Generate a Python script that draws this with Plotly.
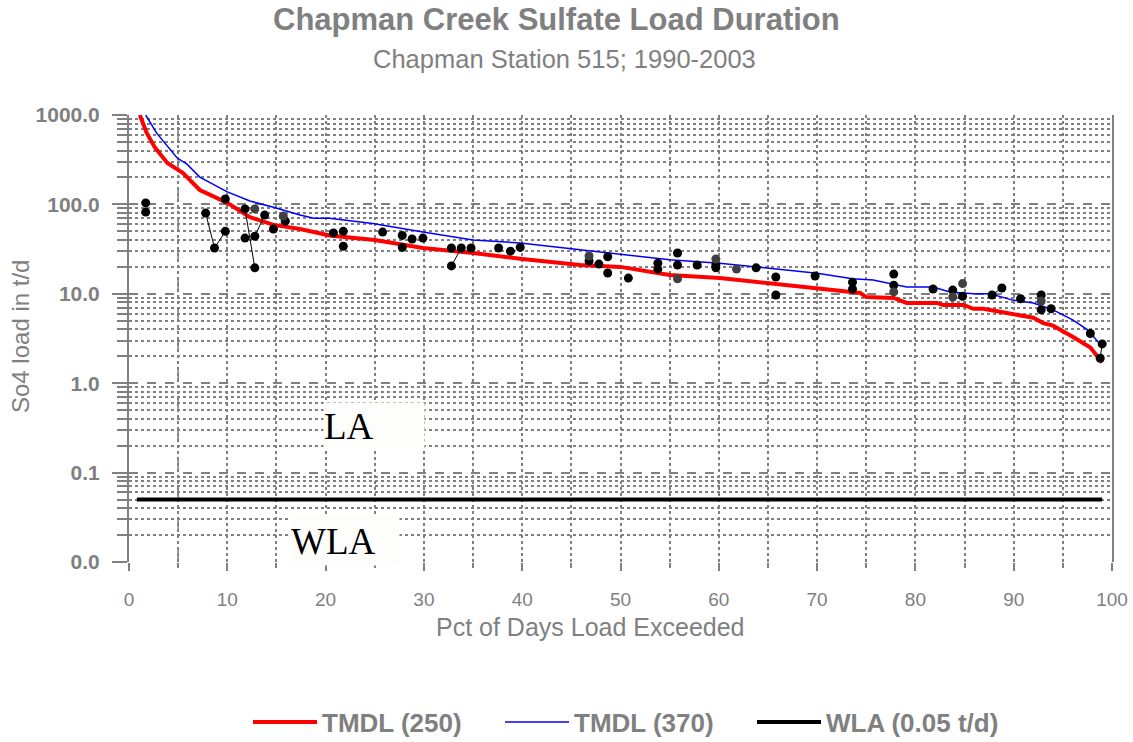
import plotly.graph_objects as go

# ---- data ----
red_pct = [1.1, 1.8, 2.6, 3.9, 5.5, 7.2, 10, 12.3, 14.7, 17.4, 20.4, 25, 29.9, 35, 40, 45.9, 50, 55,
           60.1, 64.9, 70, 74.4, 75.0, 77.8, 79.1, 82.2, 82.8, 84.9, 85.9, 86.9, 89.3, 92, 93, 94, 96, 97.8, 99]
red_load = [1000, 630, 440, 290, 224, 145, 104, 72, 59, 53, 45, 40, 32.5, 28.6, 24.5, 21, 20, 16.2,
            15, 13.2, 11.6, 10.2, 9.2, 9, 7.9, 7.9, 7.5, 7.5, 6.8, 6.8, 6.1, 5.4, 4.7, 4.4, 3.3, 2.5, 1.7]

blue_pct = [1.7, 2.8, 4.9, 5.9, 7.2, 10, 12.3, 14.7, 17.4, 18.8, 20.4, 24.8, 29.9, 35, 39.8, 45.9, 48.2,
            55, 60.1, 64.9, 70, 73.6, 75.7, 79.1, 81.8, 83.5, 85.9, 87.6, 89.9, 92, 94, 96, 97.6, 98.8]
blue_load = [1000, 630, 330, 282, 202, 138, 109, 93, 76, 70, 70, 61, 49, 40, 37, 31, 29,
             24, 22, 19.4, 17, 14.7, 14.3, 11.9, 11.9, 10.5, 10, 10, 8.5, 7.9, 6.6, 5.1, 3.9, 2.7]

wla_pct = [0.8, 99]
wla_load = [0.05, 0.05]

obs_pct = [1.7, 1.7, 9.8, 11.8, 14.7, 15.9, 20.8, 21.8, 21.8, 25.8, 27.8, 27.8, 28.8, 29.9, 32.8, 34.8,
           37.6, 38.8, 39.8, 46.8, 47.8, 48.7, 48.7, 50.8, 53.8, 53.8, 55.8, 55.8, 57.8, 59.7, 59.7,
           63.8, 65.8, 65.8, 69.8, 73.6, 73.6, 77.8, 77.8, 81.8, 83.8, 84.8, 90.7, 92.8, 92.8, 93.8, 97.8]
obs_load = [104, 82, 115, 42, 53, 65, 48, 50, 34, 49, 45, 33, 41, 42, 32.5, 32.5,
            32.5, 30, 33, 23.3, 21.5, 26, 17.1, 15, 22, 18.9, 28.6, 21, 21, 21, 19.5,
            19.5, 15.4, 9.7, 15.8, 13.5, 11.3, 16.6, 12.5, 11.3, 11, 9.4, 8.8, 9.7, 6.6, 6.8, 3.6]

grey_pct = [12.8, 15.7, 46.8, 55.8, 59.7, 61.8, 77.8, 83.8, 84.8, 92.8]
grey_load = [89, 74, 26.5, 14.7, 24.5, 18.9, 10.5, 9.2, 13, 8.3]

link_pct = [7.8, 8.7, 9.8, None, 11.8, 12.8, None, 12.8, 13.8, None, 32.8, 33.8, None, 87.8, 88.8, None, 99, 98.8]
link_load = [80, 32.5, 50, None, 89, 19.5, None, 44, 76, None, 20.5, 32.5, None, 9.7, 11.6, None, 2.75, 1.9]

dashed_pct = [5]

GREY = "#808080"
FONT = "Liberation Sans"

fig = go.Figure()

fig.add_trace(go.Scatter(x=red_pct, y=red_load, mode="lines", name="TMDL (250)",
                         line=dict(color="#ff0000", width=4)))
fig.add_trace(go.Scatter(x=blue_pct, y=blue_load, mode="lines", name="TMDL (370)",
                         line=dict(color="#0000ff", width=1.5)))
fig.add_trace(go.Scatter(x=wla_pct, y=wla_load, mode="lines", name="WLA (0.05 t/d)",
                         line=dict(color="#000000", width=4)))
fig.add_trace(go.Scatter(x=link_pct, y=link_load, mode="lines+markers", showlegend=False,
                         line=dict(color="#000000", width=1),
                         marker=dict(color="#000000", size=9), connectgaps=False))
fig.add_trace(go.Scatter(x=obs_pct, y=obs_load, mode="markers", showlegend=False,
                         marker=dict(color="#000000", size=9)))
fig.add_trace(go.Scatter(x=grey_pct, y=grey_load, mode="markers", showlegend=False,
                         marker=dict(color="#404040", size=9)))

for xv in dashed_pct:
    fig.add_vline(x=xv, line=dict(color=GREY, width=1.5, dash="longdash"), layer="below")

fig.update_xaxes(range=[0, 100], dtick=10, tick0=0, showgrid=True, gridcolor=GREY, griddash="dot",
                 gridwidth=1.5, ticks="outside", ticklen=8, tickcolor=GREY, tickwidth=1.5,
                 minor=dict(dtick=5, showgrid=True, gridcolor=GREY, griddash="dot", gridwidth=1.5,
                            ticks="outside", ticklen=5, tickcolor=GREY),
                 tickfont=dict(family=FONT, size=19, color=GREY), zeroline=False,
                 ticklabelstandoff=12, showline=False, automargin=False)
fig.update_yaxes(type="log", range=[-2, 3], dtick=1, tickformat=".1f", showgrid=True,
                 gridcolor=GREY, griddash="dash", gridwidth=1.5, ticks="outside", ticklen=15,
                 tickcolor=GREY, tickwidth=1.5,
                 minor=dict(dtick="D1", showgrid=True, gridcolor=GREY, griddash="dot", gridwidth=1.5,
                            ticks="outside", ticklen=10, tickcolor=GREY),
                 tickfont=dict(family=FONT, size=21, color=GREY, weight="bold"),
                 showline=True, mirror=True, linecolor=GREY, linewidth=2, zeroline=False,
                 ticklabelstandoff=8, automargin=False)

annos = [
    dict(text="<b>Chapman Creek Sulfate Load Duration</b>", xref="paper", yref="paper",
         x=(556 - 129) / 983, y=(562 - 20) / 447, showarrow=False, xanchor="center", yanchor="middle",
         font=dict(family=FONT, size=31, color=GREY)),
    dict(text="Chapman Station 515; 1990-2003", xref="paper", yref="paper",
         x=(564 - 129) / 983, y=(562 - 59) / 447, showarrow=False, xanchor="center", yanchor="middle",
         font=dict(family=FONT, size=25.5, color=GREY)),
    dict(text="So4 load in t/d", xref="paper", yref="paper", textangle=-90,
         x=(20 - 129) / 983, y=(562 - 337) / 447, showarrow=False, xanchor="center", yanchor="middle",
         font=dict(family=FONT, size=24, color=GREY)),
    dict(text="Pct of Days Load Exceeded", xref="paper", yref="paper",
         x=(590 - 129) / 983, y=(562 - 627) / 447, showarrow=False, xanchor="center", yanchor="middle",
         font=dict(family=FONT, size=25, color=GREY)),
    dict(text="LA", xref="paper", yref="paper",
         x=(374 - 129) / 983, y=(562 - 426) / 447, showarrow=False, xanchor="center", yanchor="middle",
         width=100, height=46, align="left", bgcolor="#fdfdfb", borderpad=0,
         font=dict(family="Liberation Serif", size=37, color="#000000")),
    dict(text="WLA", xref="paper", yref="paper",
         x=(345 - 129) / 983, y=(562 - 541) / 447, showarrow=False, xanchor="center", yanchor="middle",
         width=108, height=48, align="left", bgcolor="#fdfdfb", borderpad=0,
         font=dict(family="Liberation Serif", size=37, color="#000000")),
]

fig.update_layout(
    width=1133, height=742, autosize=False,
    margin=dict(l=129, r=21, t=115, b=180),
    paper_bgcolor="white", plot_bgcolor="white",
    annotations=annos,
    showlegend=True,
    legend=dict(orientation="h", x=(626 - 129) / 983, xanchor="center", yref="container", y=20 / 742,
                yanchor="middle",
                font=dict(family=FONT, size=26, color=GREY, weight="bold"),
                itemwidth=64, entrywidth=173, tracegroupgap=0, bgcolor="rgba(0,0,0,0)"),
)

fig.write_html("out.html")
